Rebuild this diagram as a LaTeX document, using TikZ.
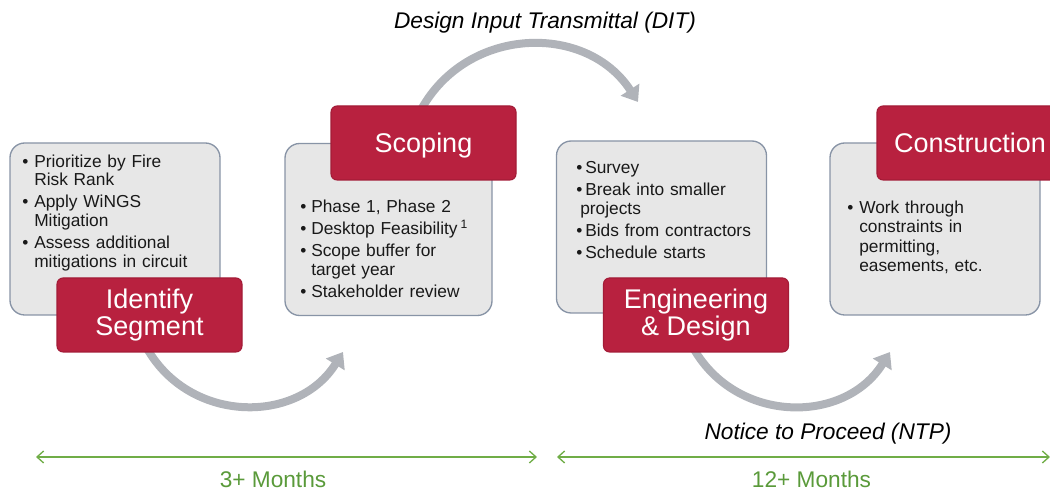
\documentclass[tikz,border=0pt]{standalone}
\usepackage{fontspec}
\setmainfont{Liberation Sans}
\usetikzlibrary{arrows.meta,backgrounds}

\definecolor{segred}{HTML}{B8213F}
\definecolor{segredline}{HTML}{A31B37}
\definecolor{panelfill}{HTML}{E7E7E7}
\definecolor{paneledge}{HTML}{8894A6}
\definecolor{flowgray}{HTML}{B0B3B9}
\definecolor{spangreen}{HTML}{70AD47}
\definecolor{spantext}{HTML}{5A9A3A}

% bullet lists inside the panels
\newlength{\bulind}
\newlength{\bulhang}
\newcommand{\bulset}[2]{\setlength{\bulind}{#1}\setlength{\bulhang}{#2}\setlength{\parskip}{2.8pt}}
\newcommand{\bul}[1]{\par\hangindent=\bulhang\hangafter=1\noindent\makebox[\bulind][l]{\textbullet}#1}

\begin{document}
\begin{tikzpicture}[x=0.75pt,y=0.75pt,
  panel/.style={draw=paneledge, line width=1pt, fill=panelfill, rounded corners=11pt,
    minimum width=157.5pt, minimum height=129pt, inner sep=0pt},
  bultext/.style={anchor=north west, inner sep=0pt, text width=152pt, align=left,
    font=\fontsize{13}{13.9}\selectfont, text=black!90},
  phase/.style={draw=segredline, line width=0.8pt, fill=segred, rounded corners=4.5pt,
    minimum width=138.75pt, minimum height=55.5pt, inner sep=0pt, text=white,
    align=center, font=\fontsize{20.25}{20.25}\selectfont},
  oneline/.style={text height=14.6pt, text depth=0pt},
  flow/.style={draw=flowgray, line width=6pt, -{Triangle[length=11pt,width=16pt]}},
  span/.style={draw=spangreen, line width=1pt,
    {Straight Barb[length=5pt,width=9pt]}-{Straight Barb[length=5pt,width=9pt]}},
  milestone/.style={font=\itshape\fontsize{17}{17}\selectfont, inner sep=0pt, anchor=base},
  duration/.style={font=\fontsize{17}{17}\selectfont, text=spantext, inner sep=0pt, anchor=base}]
\useasboundingbox (0,0) rectangle (1050,491);

% grey panels
\node[panel] (p1) at (115,262) {};
\node[panel, minimum width=155.25pt] (p2) at (388.5,261.5) {};
\node[panel] (p3) at (661.5,264) {};
\node[panel] (p4) at (935,262) {};

% panel contents
\node[bultext] (t1) at (22,346.5) {\bulset{9pt}{9pt}%
  \bul{Prioritize by Fire\newline Risk Rank}%
  \bul{Apply WiNGS\newline Mitigation}%
  \bul{Assess additional\newline mitigations in circuit}\par};
\node[bultext] (t2) at (300,301.5) {\bulset{8.25pt}{8.25pt}%
  \bul{Phase 1, Phase 2}%
  \bul{Desktop Feasibility\,\textsuperscript{1}}%
  \bul{Scope buffer for\newline target year}%
  \bul{Stakeholder review}\par};
\node[bultext] (t3) at (576,340) {\bulset{6.75pt}{3pt}%
  \bul{Survey}%
  \bul{Break into smaller\newline projects}%
  \bul{Bids from contractors}%
  \bul{Schedule starts}\par};
\node[bultext, font=\fontsize{13}{14.7}\selectfont] (t4) at (847,301.5) {\bulset{9pt}{9pt}%
  \bul{Work through\newline constraints in\newline permitting,\newline easements, etc.}\par};

% phase headers
\node[phase] (r1) at (149.5,176) {Identify\\Segment};
\node[phase, oneline] (r2) at (423.5,348) {Scoping};
\node[phase] (r3) at (696,176) {Engineering\\\& Design};
\node[phase, oneline, minimum width=139.5pt] (r4) at (970,348) {Construction};

% hand-over arrows between phases
\coordinate (ditEnd) at (638,389);
\coordinate (segEnd) at (343,139);
\coordinate (ntpEnd) at (890,139);
\begin{pgfonlayer}{background}
  \draw[flow] ([shift={(239:12)}]r2.north) -- (r2.north)
    to[out=59,in=123,looseness=1.11] (ditEnd);
  \draw[flow] ([shift={(122:12)}]r1.south) -- (r1.south)
    to[out=-58,in=-122,looseness=1.11] (segEnd);
  \draw[flow] ([shift={(122:12)}]r3.south) -- (r3.south)
    to[out=-58,in=-122,looseness=1.11] (ntpEnd);
\end{pgfonlayer}

\node[milestone] (dit) at (545,462.5) {Design Input Transmittal (DIT)};
\node[milestone] (ntp) at (828,51) {Notice to Proceed (NTP)};

% durations
\coordinate (s1a) at (36,34);
\coordinate (s1b) at (537,34);
\coordinate (s2a) at (557,34);
\coordinate (s2b) at (1050,34);
\draw[span] (s1a) -- (s1b);
\draw[span] (s2a) -- (s2b);
\node[duration] (d1) at (273,3.5) {3+ Months};
\node[duration] (d2) at (811.5,3.5) {12+ Months};
\end{tikzpicture}
\end{document}
